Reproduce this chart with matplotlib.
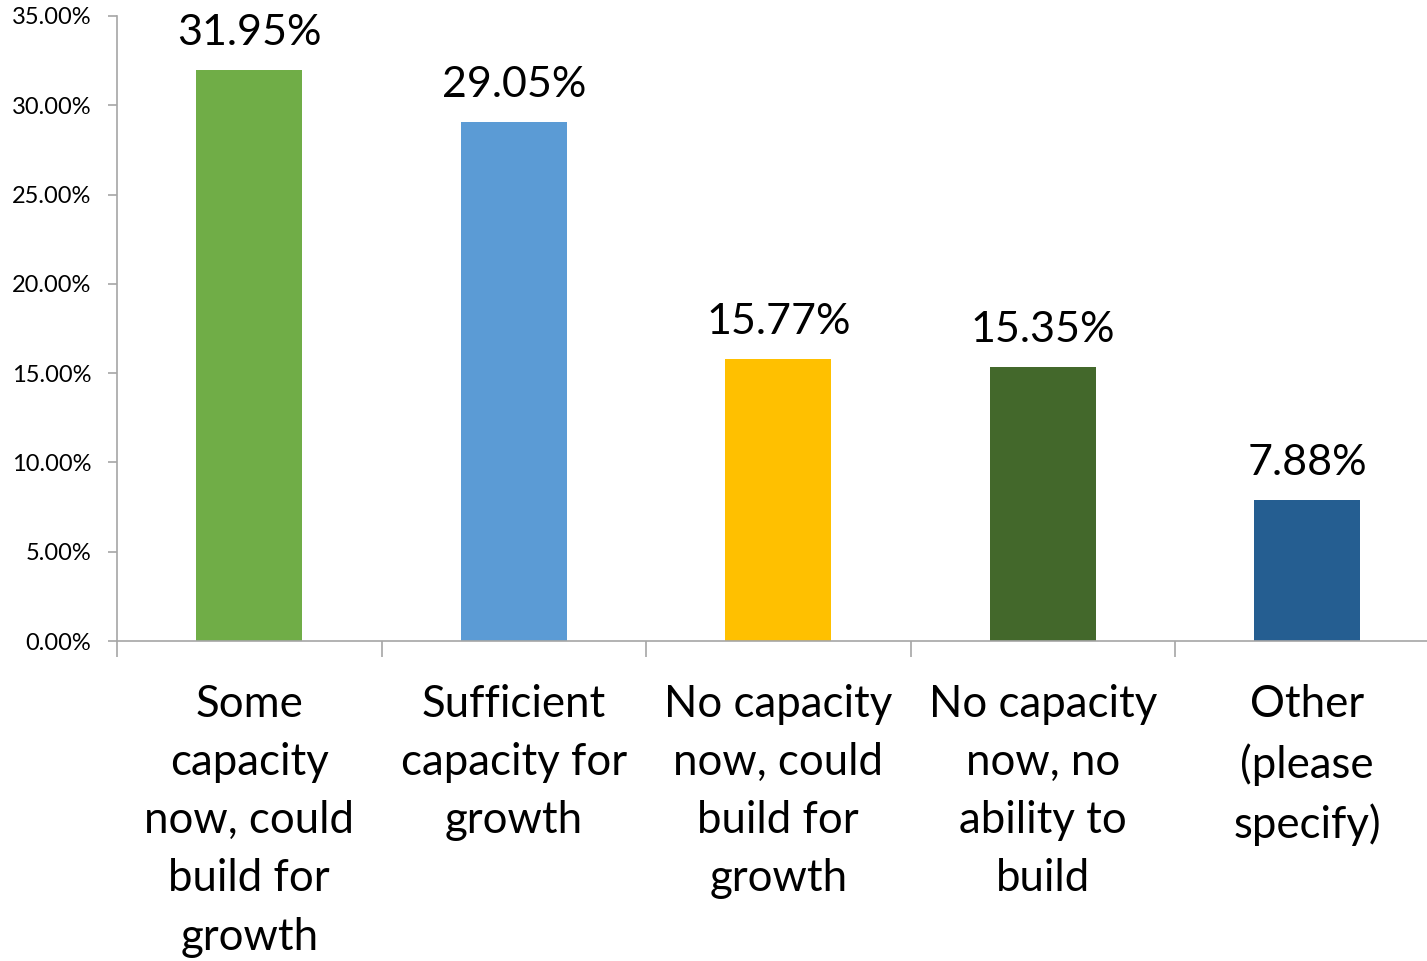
import matplotlib
matplotlib.use("Agg")
import matplotlib.pyplot as plt
from matplotlib.ticker import FuncFormatter, MultipleLocator
import matplotlib.transforms as mtransforms

categories = [
    "Some\ncapacity\nnow, could\nbuild for\ngrowth",
    "Sufficient\ncapacity for\ngrowth",
    "No capacity\nnow, could\nbuild for\ngrowth",
    "No capacity\nnow, no\nability to\nbuild",
    "Other\n(please\nspecify)",
]
values = [31.95, 29.05, 15.77, 15.35, 7.88]
colors = ["#70AD47", "#5B9BD5", "#FFC000", "#43682B", "#255E91"]

plt.rcParams["font.family"] = ["Lato", "DejaVu Sans"]

W, H = 1427, 961
fig = plt.figure(figsize=(W / 100, H / 100), dpi=100)
left, right, bottom, top = 117, 1439.5, 641, 16
ax = fig.add_axes([left / W, 1 - bottom / H, (right - left) / W, (bottom - top) / H])

x = list(range(len(values)))
ax.bar(x, values, width=0.40, color=colors, zorder=2)

ax.set_xlim(-0.5, len(values) - 0.5)
ax.set_ylim(0, 35)

grey = "#A6A6A6"
for side in ("top", "right"):
    ax.spines[side].set_visible(False)
for side in ("left", "bottom"):
    ax.spines[side].set_color(grey)
    ax.spines[side].set_linewidth(1.2)

ax.yaxis.set_major_locator(MultipleLocator(5))
ax.yaxis.set_major_formatter(FuncFormatter(lambda v, p: f"{v:.2f}%"))
ax.tick_params(axis="y", length=6.5, width=1.2, color=grey, pad=12,
               labelsize=17, labelcolor="black")

ax.set_xticks([i - 0.5 for i in range(len(values) + 1)])
ax.set_xticklabels([])
ax.tick_params(axis="x", length=11.5, width=1.2, color=grey)

trans = mtransforms.blended_transform_factory(ax.transData, fig.transFigure)
for xi, lab in zip(x, categories):
    ax.text(xi, 1 - 684 / H, lab, transform=trans, ha="center", va="top",
            fontsize=31.5, linespacing=1.52, color="black")

for xi, v in zip(x, values):
    ax.annotate(f"{v:.2f}%", (xi, v), xytext=(0, 13), textcoords="offset points",
                ha="center", va="bottom", fontsize=31, color="black")

fig.savefig("out.png", dpi=100)
